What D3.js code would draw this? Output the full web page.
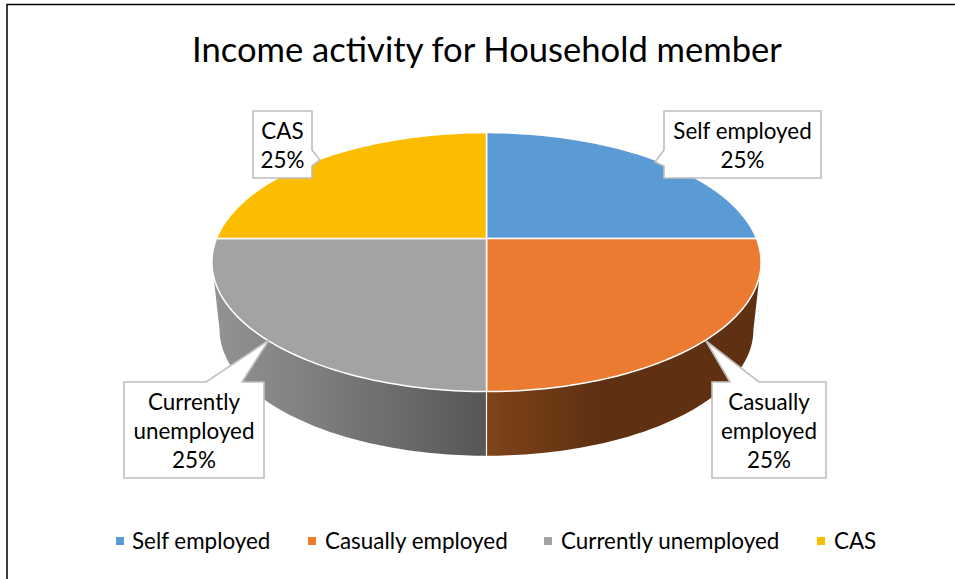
<!DOCTYPE html>
<html><head><meta charset="utf-8">
<style>html,body{margin:0;padding:0;background:#fff}svg{display:block}</style>
<script src="https://d3js.org/d3.v7.min.js"></script></head>
<body><svg id="c" width="955" height="579"></svg>
<script>
const categories=["Self employed","Casually employed","Currently unemployed","CAS"];
const values=[25,25,25,25];
const colors=["#5B9BD5","#EB7B31","#A3A3A3","#FBBD00"];
const labelLines=[["Self employed","25%"],["Casually","employed","25%"],["Currently","unemployed","25%"],["CAS","25%"]];
const title="Income activity for Household member";
const font="Lato, Carlito, Calibri, sans-serif";
const W=955,H=579;
const svg=d3.select("#c");
svg.append("rect").attr("x",7).attr("y",4.5).attr("width",W+5).attr("height",H+5).attr("fill","#fff").attr("stroke","#000").attr("stroke-width",1.5);
svg.append("text").attr("x",487).attr("y",61.5).attr("text-anchor","middle").attr("font-family",font).attr("font-size",34.6).attr("fill","#000").text(title);

// perspective projection of the pie disc
const cx=486.5,cy=238.5,A=270,B=125.2,k=0.182;
const proj=(a,scale=1,dy=0)=>{const s=Math.sin(a),c=Math.cos(a),w=1+k*c;return [cx+scale*A*s/w,cy+dy-scale*B*c/w];};
const arcs=d3.pie().sort(null).value(d=>d)(values);
const samples=(a0,a1,n=80)=>d3.range(n+1).map(i=>a0+(a1-a0)*i/n);
const line=d3.line();
const wallScale=0.972,wallDy=68.5;
const tang=Math.acos(-k); // silhouette angle of the disc
const defs=svg.append("defs");
const wallStops=[[[0,"#7F4419"],[0.4,"#5F3112"],[1,"#5F3112"]],[[0,"#939393"],[0.35,"#808080"],[1,"#565656"]]];
const wallArcs=arcs.filter(d=>d.startAngle<Math.PI*1.5&&d.endAngle>Math.PI/2&&Math.min(d.endAngle,2*Math.PI-tang)>Math.max(d.startAngle,tang));
wallArcs.forEach((d,i)=>{
  const a0=Math.max(d.startAngle,tang),a1=Math.min(d.endAngle,2*Math.PI-tang);
  const top=samples(a0,a1).map(a=>proj(a));
  const bot=samples(a1,a0).map(a=>proj(a,wallScale,wallDy));
  const xs=top.concat(bot).map(p=>p[0]);
  const id="wall"+i;
  const g=defs.append("linearGradient").attr("id",id).attr("gradientUnits","userSpaceOnUse")
    .attr("x1",i==0?cx:d3.min(xs)).attr("x2",i==0?d3.max(xs):cx).attr("y1",0).attr("y2",0);
  wallStops[i].forEach(s=>g.append("stop").attr("offset",s[0]).attr("stop-color",s[1]));
  svg.append("path").attr("d",line(top.concat(bot))+"Z").attr("fill",`url(#${id})`);
});
// white seam between the wall pieces
svg.append("path").attr("d",line([proj(Math.PI),proj(Math.PI,wallScale,wallDy)])).attr("stroke","#fff").attr("stroke-width",1.2);
// top slices
arcs.forEach((d,i)=>{
  const pts=[[cx,cy]].concat(samples(d.startAngle,d.endAngle).map(a=>proj(a)));
  svg.append("path").attr("d",line(pts)+"Z").attr("fill",colors[i]).attr("stroke","#fff").attr("stroke-width",1.5).attr("stroke-linejoin","round");
});
// callouts: box and pointer geometry
const boxes=[[664,111,157,67],[712,382,114,96],[124,382,140,96],[253,111,59,67]];
const anchors=[[655,162],[706,341],[269,340],[320,160]];
const pointerBase=[[[664,150],[664,166]],[[730,382],[759,382]],[[206,382],[242,382]],[[312,150],[312,166]]];
const lh=29.3;
boxes.forEach((b,i)=>{
  const [x,y,w,h]=b,t=anchors[i],[p,q]=pointerBase[i];
  const g=svg.append("g");
  let pts;
  if(p[0]===x) pts=[[x,y],[x+w,y],[x+w,y+h],[x,y+h],q,t,p];
  else if(p[0]===x+w) pts=[[x,y],[x+w,y],p,t,q,[x+w,y+h],[x,y+h]];
  else pts=[[x,y],p,t,q,[x+w,y],[x+w,y+h],[x,y+h]];
  g.append("path").attr("d",line(pts)+"Z").attr("fill","#fff").attr("stroke","#BFBFBF").attr("stroke-width",1.6);
  const L=labelLines[i],mid=y+h/2,start=mid-(L.length-1)*lh/2+8.8;
  L.forEach((s,j)=>g.append("text").attr("x",x+w/2).attr("y",start+j*lh).attr("text-anchor","middle")
    .attr("font-family",font).attr("font-size",22.4).attr("fill","#000").text(s));
});
// legend
const legendX=[116,308,544,817],legendTextX=[132,325,561,834];
categories.forEach((c,i)=>{
  svg.append("rect").attr("x",legendX[i]).attr("y",537).attr("width",8).attr("height",8).attr("fill",colors[i]);
  svg.append("text").attr("x",legendTextX[i]).attr("y",549).attr("font-family",font).attr("font-size",22.4).attr("fill","#000").text(c);
});
</script></body></html>
